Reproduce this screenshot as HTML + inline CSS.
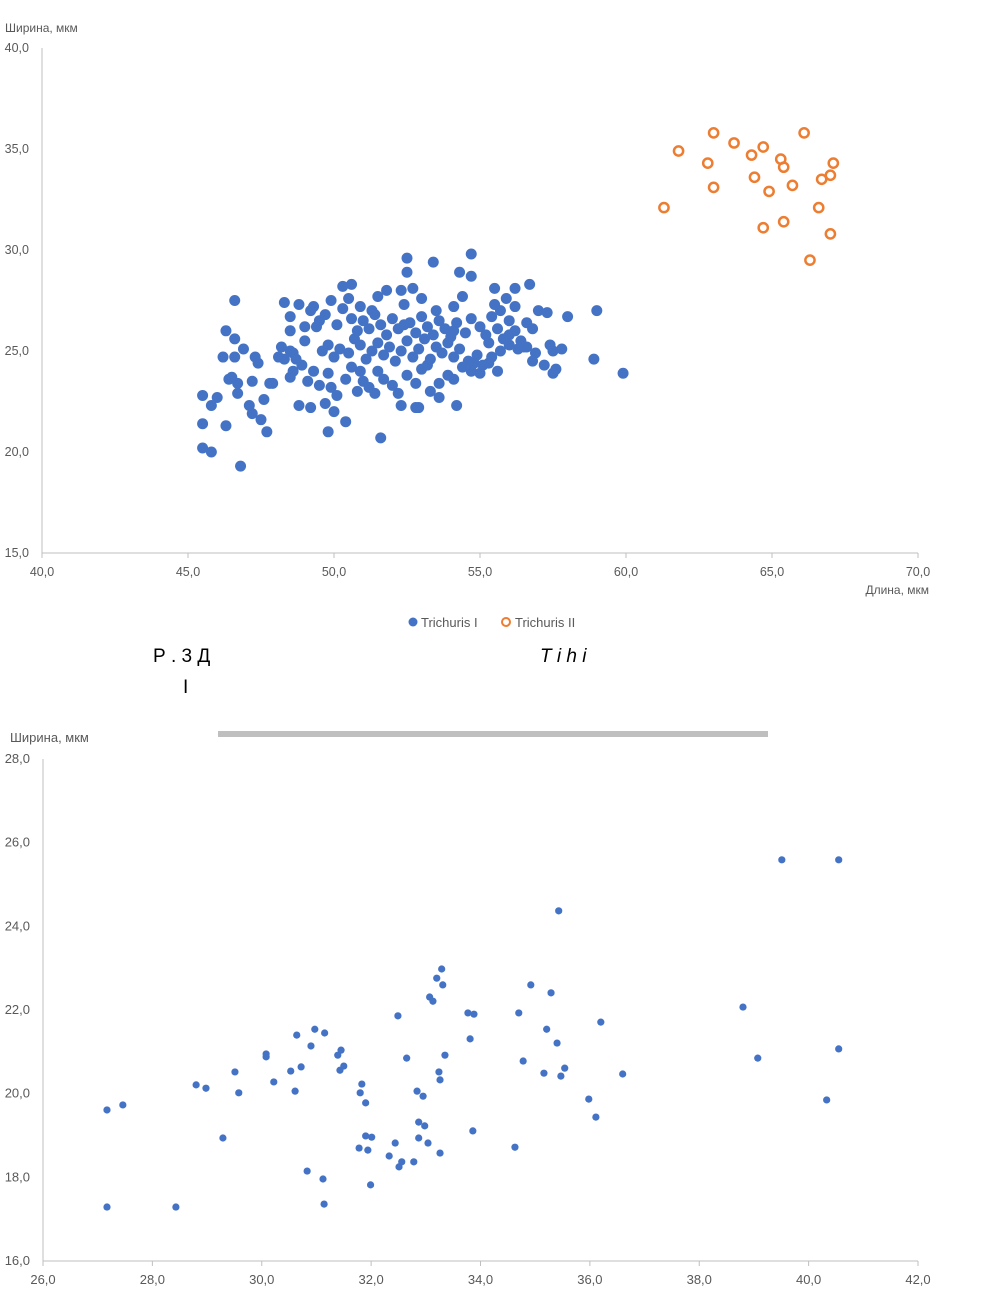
<!DOCTYPE html>
<html><head><meta charset="utf-8"><style>
body{margin:0;background:#fff;width:987px;height:1290px;overflow:hidden;font-family:"Liberation Sans",sans-serif}
svg text{font-family:"Liberation Sans","Noto Sans CJK SC",sans-serif}
</style></head><body>
<svg id="s" width="987" height="1290">
<text x="5" y="32" font-size="12" fill="#595959">Ширина, мкм</text>
<text x="929" y="594" font-size="12" fill="#595959" text-anchor="end">Длина, мкм</text>
<g>
<circle cx="413" cy="622" r="4.5" fill="#4472c4"/>
<text x="421" y="627" font-size="13" fill="#595959">Trichuris I</text>
<circle cx="506" cy="622" r="4" fill="none" stroke="#ed7d31" stroke-width="2"/>
<text x="515" y="627" font-size="13" fill="#595959">Trichuris II</text>
</g>
<text x="153" y="662" font-size="19" fill="#000" font-family="Liberation Serif">Р . 3 Д</text>
<text x="540" y="662" font-size="19" fill="#000" font-style="italic" font-family="Liberation Serif">T i h i</text>
<text x="183" y="693" font-size="19" fill="#000" font-family="Liberation Serif">I</text>
<text x="10" y="742" font-size="13" fill="#595959">Ширина, мкм</text>
<rect x="218" y="731" width="550" height="6" fill="#bfbfbf"/>
<g id="c1"></g><g id="c2"></g>
</svg>
<script>
const c1XTicks=["40,0","45,0","50,0","55,0","60,0","65,0","70,0"];
const c1YTicks=["15,0","20,0","25,0","30,0","35,0","40,0"];
const seriesI=[[45.5,21.4],[45.5,22.8],[45.5,20.2],[45.8,20.0],[45.8,22.3],[46.0,22.7],[46.2,24.7],[46.3,26.0],[46.3,21.3],[46.4,23.6],[46.5,23.7],[46.6,25.6],[46.6,27.5],[46.6,24.7],[46.7,22.9],[46.7,23.4],[46.8,19.3],[46.9,25.1],[47.1,22.3],[47.2,23.5],[47.2,21.9],[47.3,24.7],[47.4,24.4],[47.5,21.6],[47.6,22.6],[47.7,21.0],[47.8,23.4],[47.9,23.4],[48.2,25.2],[48.3,27.4],[48.5,26.7],[48.5,26.0],[48.5,23.7],[48.6,24.9],[48.8,22.3],[49.0,26.2],[49.2,22.2],[49.3,27.2],[49.8,21.0],[50.4,21.5],[50.3,28.2],[50.6,28.3],[51.6,20.7],[52.9,22.2],[52.3,22.3],[52.5,29.6],[53.4,29.4],[54.7,29.8],[54.2,22.3],[54.7,28.7],[59.0,27.0],[58.9,24.6],[59.9,23.9],[58.0,26.7],[57.6,24.1],[57.5,23.9],[56.5,25.2],[56.7,28.3],[56.2,28.1],[55.5,28.1],
[49.2,27.0],[49.5,26.5],[49.0,25.5],[48.7,24.6],[48.9,24.3],[49.3,24.0],[49.5,23.3],[49.8,23.9],[49.9,23.2],[50.1,22.8],[50.0,22.0],[50.4,23.6],[50.6,24.2],[50.8,23.0],[51.0,23.5],[51.2,23.2],[51.4,22.9],[51.5,24.0],[51.7,23.6],[52.0,23.3],[52.2,22.9],[52.5,23.8],[52.8,23.4],[53.0,24.1],[53.3,23.0],[53.6,23.4],[53.9,23.8],[54.1,23.6],[54.4,24.2],[54.7,24.0],[55.0,23.9],[55.3,24.4],[55.6,24.0],[49.6,25.0],[49.8,25.3],[50.0,24.7],[50.2,25.1],[50.5,24.9],[50.7,25.6],[50.9,25.3],[51.1,24.6],[51.3,25.0],[51.5,25.4],[51.7,24.8],[51.9,25.2],[52.1,24.5],[52.3,25.0],[52.5,25.5],[52.7,24.7],[52.9,25.1],[53.1,25.6],[53.3,24.6],[53.5,25.2],[53.7,24.9],[53.9,25.4],[54.1,24.7],[54.3,25.1],[54.6,24.5],[54.9,24.8],[55.1,24.3],[55.4,24.7],[55.7,25.0],[56.0,25.3],[56.3,25.1],[56.6,25.2],[56.9,24.9],[57.2,24.3],[49.4,26.2],[49.7,26.8],[50.1,26.3],[50.3,27.1],[50.6,26.6],[50.8,26.0],[51.0,26.5],[51.2,26.1],[51.4,26.8],[51.6,26.3],[51.8,25.8],[52.0,26.6],[52.2,26.1],[52.4,27.3],[52.6,26.4],[52.8,25.9],[53.0,26.7],[53.2,26.2],[53.4,25.8],[53.6,26.5],[53.8,26.1],[54.0,25.7],[54.2,26.4],[54.5,25.9],[54.7,26.6],[55.0,26.2],[55.2,25.8],[55.4,26.7],[55.6,26.1],[55.8,25.6],[56.0,26.5],[56.2,26.0],[56.4,25.5],[56.6,26.4],[56.8,26.1],[57.0,27.0],[57.3,26.9],[55.5,27.3],[55.9,27.6],[56.2,27.2],[55.7,27.0],[53.5,27.0],[54.1,27.2],[54.4,27.7],[53.0,27.6],[52.7,28.1],[52.3,28.0],[51.8,28.0],[51.5,27.7],[50.9,27.2],[51.3,27.0],[48.8,27.3],[49.9,27.5],[50.5,27.6],[54.3,28.9],[52.5,28.9],[48.6,24.0],[48.3,24.6],[49.1,23.5],[52.8,22.2],[53.6,22.7],[49.7,22.4],[50.9,24.0],[53.2,24.3],[54.8,24.4],[56.8,24.5],[57.5,25.0],[57.8,25.1],[57.4,25.3],[48.5,25.0],[48.1,24.7],[56.0,25.8],[55.3,25.4],[54.1,26.0],[52.4,26.3]];
const seriesII=[[61.3,32.1],[61.8,34.9],[63.0,35.8],[62.8,34.3],[63.0,33.1],[63.7,35.3],[64.3,34.7],[64.7,35.1],[64.4,33.6],[64.9,32.9],[64.7,31.1],[65.3,34.5],[65.4,34.1],[65.4,31.4],[65.7,33.2],[66.1,35.8],[66.3,29.5],[66.6,32.1],[66.7,33.5],[67.0,33.7],[67.1,34.3],[67.0,30.8]];
const c2XTicks=["26,0","28,0","30,0","32,0","34,0","36,0","38,0","40,0","42,0"];
const c2YTicks=["16,0","18,0","20,0","22,0","24,0","26,0","28,0"];
const series2=[[27.17,17.29],[27.17,19.61],[27.46,19.73],[28.43,17.29],[28.80,20.21],[28.98,20.13],[29.29,18.94],[29.51,20.52],[29.58,20.02],[30.08,20.88],[30.08,20.95],[30.22,20.28],[30.53,20.54],[30.61,20.06],[30.64,21.40],[30.72,20.64],[30.83,18.15],[30.90,21.14],[30.97,21.54],[31.12,17.96],[31.14,17.36],[31.15,21.45],[31.39,20.92],[31.45,21.04],[31.43,20.56],[31.50,20.66],[31.78,18.70],[31.80,20.02],[31.83,20.23],[31.90,19.78],[31.90,18.99],[31.94,18.65],[32.01,18.96],[31.99,17.82],[32.33,18.51],[32.44,18.82],[32.49,21.86],[32.51,18.25],[32.56,18.37],[32.65,20.85],[32.78,18.37],[32.84,20.06],[32.87,19.32],[32.87,18.94],[32.95,19.94],[32.98,19.23],[33.04,18.82],[33.07,22.31],[33.13,22.21],[33.20,22.76],[33.24,20.52],[33.26,18.58],[33.26,20.33],[33.29,22.98],[33.31,22.60],[33.35,20.92],[33.77,21.93],[33.81,21.31],[33.88,21.90],[33.86,19.11],[34.63,18.72],[34.70,21.93],[34.78,20.78],[34.92,22.60],[35.16,20.49],[35.21,21.54],[35.29,22.41],[35.40,21.21],[35.43,24.37],[35.47,20.42],[35.54,20.61],[35.98,19.87],[36.11,19.44],[36.20,21.71],[36.60,20.47],[38.80,22.07],[39.07,20.85],[39.51,25.59],[40.33,19.85],[40.55,21.07],[40.55,25.59]];
const NS="http://www.w3.org/2000/svg";
function mk(tag,attrs,parent){const e=document.createElementNS(NS,tag);for(const k in attrs)e.setAttribute(k,attrs[k]);parent.appendChild(e);return e;}
function chart(g,x0,x1,xmin,xmax,y0,y1,ymin,ymax,xt,yt,fs){
  const sx=v=>x0+(v-xmin)/(xmax-xmin)*(x1-x0), sy=v=>y0-(v-ymin)/(ymax-ymin)*(y0-y1);
  const ya=mk('line',{x1:x0,x2:x0,y1:y1,y2:y0,stroke:'#bfbfbf'},g);
  
  
  const xa=mk('line',{x1:x0,x2:x1,y1:y0,y2:y0,stroke:'#bfbfbf'},g);
  
  
  xt.forEach(t=>{const v=parseFloat(t.replace(',','.'));const x=sx(v);
    const tk=mk('line',{x1:x,x2:x,y1:y0,y2:y0+5,stroke:'#bfbfbf'},g);
    
    
    const l=mk('text',{x:x,y:y0+23,'font-size':fs,fill:'#595959','text-anchor':'middle'},g);l.textContent=t;
    
    });
  yt.forEach(t=>{const v=parseFloat(t.replace(',','.'));
    const l=mk('text',{x:x0-13,y:sy(v)+4,'font-size':fs,fill:'#595959','text-anchor':'end'},g);l.textContent=t;
    
    });
  return [sx,sy];
}
const g1=document.getElementById('c1'),g2=document.getElementById('c2');
let [sx,sy]=chart(g1,42,918,40,70,553,48,15,40,c1XTicks,c1YTicks,12.5);
seriesI.forEach(p=>{const c=mk('circle',{cx:sx(p[0]),cy:sy(p[1]),r:5.5,fill:'#4472c4'},g1);
  
  });
seriesII.forEach(p=>{const c=mk('circle',{cx:sx(p[0]),cy:sy(p[1]),r:4.6,fill:'none',stroke:'#ed7d31','stroke-width':2.5},g1);
  
  });
[sx,sy]=chart(g2,43,918,26,42,1261,759,16,28,c2XTicks,c2YTicks,13);
series2.forEach(p=>{const c=mk('circle',{cx:sx(p[0]),cy:sy(p[1]),r:3.6,fill:'#4472c4'},g2);
  
  });
</script>
</body></html>
